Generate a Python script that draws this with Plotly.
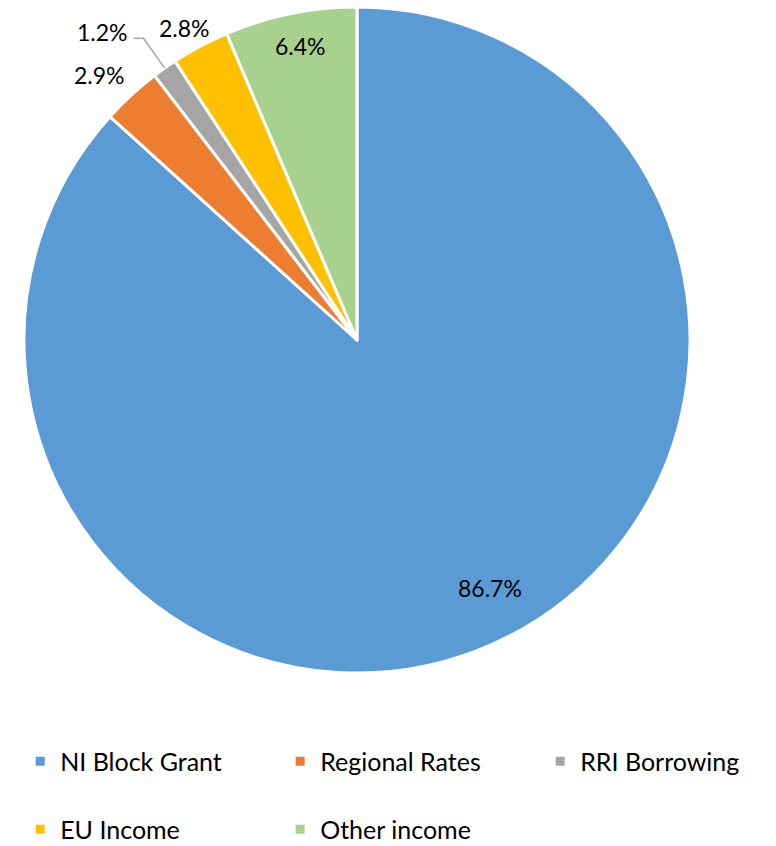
import math
import plotly.graph_objects as go

categories = ["NI Block Grant", "Regional Rates", "RRI Borrowing", "EU Income", "Other income"]
shares = [86.7, 2.9, 1.2, 2.8, 6.4]
colors = ["#5B9BD5", "#ED7D31", "#A5A5A5", "#FFC000", "#A9D18E"]

# label placement style (radius as fraction of pie radius, angular nudge in degrees)
label_radius = [0.845, 1.11, 1.20, 1.07, 0.90]
label_shift = [-4.3, -1.6, -4.3, -0.8, 0.6]
leader_line = [False, False, True, False, False]

W, H = 776, 846
cx, cy, r = 357, 340, 333
FONT = "Lato"


def px(x, y):
    return x / W, 1 - y / H


fig = go.Figure(go.Pie(
    labels=[" <br>" + c for c in categories],
    values=shares,
    customdata=categories,
    sort=False,
    direction="clockwise",
    rotation=0,
    marker=dict(colors=colors, line=dict(color="white", width=3)),
    textinfo="none",
    hovertemplate="%{customdata}: %{percent:.1%}<extra></extra>",
    domain=dict(x=[(cx - r) / W, (cx + r) / W], y=[1 - (cy + r) / H, 1 - (cy - r) / H]),
    automargin=False,
))

total = sum(shares)
cum = 0.0
for i, v in enumerate(shares):
    mid = (cum + v / 2) / total * 360.0
    cum += v
    ang = math.radians(mid + label_shift[i])
    lx = cx + label_radius[i] * r * math.sin(ang)
    ly = cy - label_radius[i] * r * math.cos(ang)
    x, y = px(lx, ly)
    fig.add_annotation(x=x, y=y, xref="paper", yref="paper", text=f"{v / total * 100:.1f}%",
                       showarrow=False, xanchor="center", yanchor="middle",
                       font=dict(family=FONT, size=23, color="black"))
    if leader_line[i]:
        m = math.radians(mid)
        ex, ey = cx + r * math.sin(m), cy - r * math.cos(m)
        bx, by = cx + 1.11 * r * math.sin(m), cy - 1.11 * r * math.cos(m)
        p0 = px(ex, ey)
        p1 = px(bx, by)
        p2 = px(bx - 10, by)
        fig.add_shape(type="path", xref="paper", yref="paper",
                      path=f"M {p0[0]} {p0[1]} L {p1[0]} {p1[1]} L {p2[0]} {p2[1]}",
                      line=dict(color="#A5A5A5", width=1.5))

fig.update_layout(
    width=W, height=H,
    margin=dict(l=0, r=0, t=0, b=0, autoexpand=False),
    paper_bgcolor="white",
    showlegend=True,
    legend=dict(
        orientation="h",
        x=0.026, xanchor="left",
        y=0.1655, yanchor="top",
        entrywidth=215, entrywidthmode="pixels",
        valign="bottom",
        font=dict(family=FONT, size=25, color="black"),
        itemwidth=30,
        traceorder="normal",
    ),
)

fig.write_html("out.html", config={"displayModeBar": False},
               post_script="document.body.style.margin='0';")
